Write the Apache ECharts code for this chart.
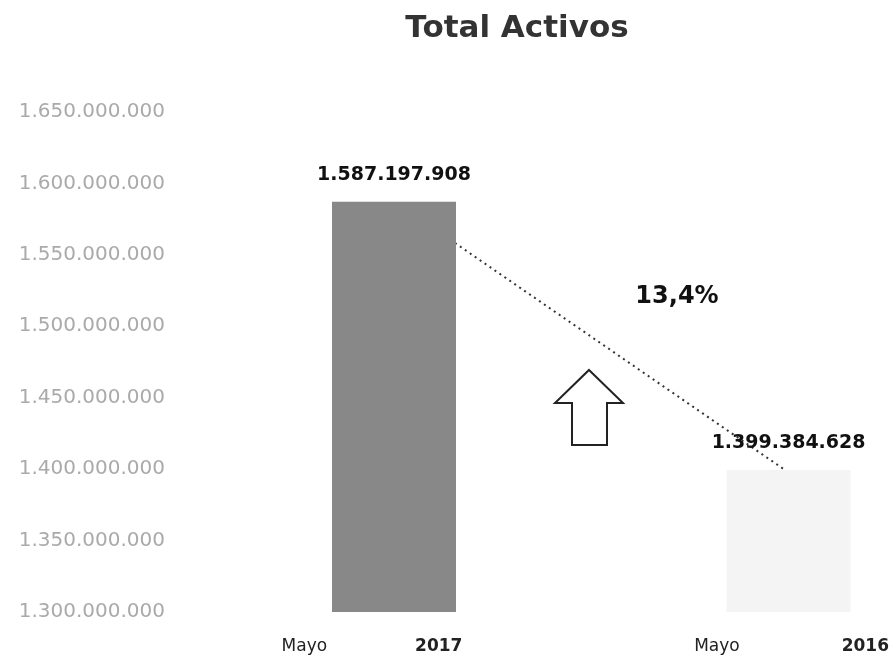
<!DOCTYPE html>
<html>
<head>
<meta charset="utf-8">
<script src="https://cdn.jsdelivr.net/npm/echarts@6/dist/echarts.min.js"></script>
<style>
  html, body { margin: 0; padding: 0; background: #fff; }
  #chart { width: 892px; height: 666px; }
</style>
</head>
<body>
<div id="chart"></div>
<script>
// datos
var categories = ['Mayo 2017', 'Mayo 2016'];
var totals = [1587197908, 1399384628];
var barColors = ['#888888', '#f4f4f4'];
var changeLabel = '13,4%';
var yMin = 1300000000, yMax = 1650000000, yStep = 50000000;

function puntos(v) {
  return String(v).replace(/\B(?=(\d{3})+(?!\d))/g, '.');
}

var chart = echarts.init(document.getElementById('chart'));
var option = {
  animation: false,
  title: {
    text: 'Total Activos',
    left: 512,
    top: 8,
    textAlign: 'center',
    textStyle: { fontFamily: 'DejaVu Sans', fontSize: 31, fontWeight: 'bold', color: '#333' }
  },
  grid: { left: 394, right: 103, top: 112, bottom: 54 },
  xAxis: {
    type: 'category',
    data: categories,
    boundaryGap: false,
    axisLine: { show: false },
    axisTick: { show: false },
    axisLabel: {
      margin: 26,
      formatter: function (v, i) {
        var p = v.split(' ');
        return '{a' + i + '|}{m|' + p[0] + '}{g' + i + '|}{y|' + p[1] + '}{b' + i + '|}';
      },
      rich: {
        m: { fontFamily: 'DejaVu Sans', fontSize: 17, color: '#222' },
        y: { fontFamily: 'DejaVu Sans', fontSize: 17, fontWeight: 'bold', color: '#222' },
        a0: { width: 0 }, g0: { width: 88 }, b0: { width: 44 },
        a1: { width: 6 }, g1: { width: 102 }, b1: { width: 0 }
      }
    }
  },
  yAxis: {
    type: 'value',
    min: yMin,
    max: yMax,
    interval: yStep,
    axisLine: { show: false },
    axisTick: { show: false },
    splitLine: { show: false },
    axisLabel: {
      margin: 229,
      fontFamily: 'DejaVu Sans',
      fontSize: 20,
      color: '#aaa',
      formatter: puntos
    }
  },
  series: [
    {
      // base invisible: las barras arrancan en el minimo del eje
      type: 'bar',
      stack: 'a',
      clip: false,
      barWidth: 124,
      silent: true,
      itemStyle: { color: 'transparent' },
      data: totals.map(function () { return yMin; })
    },
    {
      type: 'bar',
      stack: 'a',
      clip: false,
      barWidth: 124,
      data: totals.map(function (v, i) {
        return { value: v - yMin, itemStyle: { color: barColors[i] } };
      }),
      label: {
        show: true,
        position: 'top',
        distance: 17,
        fontFamily: 'DejaVu Sans',
        fontSize: 19,
        fontWeight: 'bold',
        color: '#111',
        formatter: function (p) { return puntos(totals[p.dataIndex]); }
      }
    }
  ],
  graphic: [
    {
      type: 'line',
      shape: { x1: 455, y1: 243, x2: 785, y2: 470 },
      style: { stroke: '#333', lineWidth: 2, lineDash: [2, 4] }
    },
    {
      type: 'polygon',
      shape: { points: [[589, 370], [623, 403], [607, 403], [607, 445], [572, 445], [572, 403], [555, 403]] },
      style: { fill: 'none', stroke: '#222', lineWidth: 2 }
    },
    {
      type: 'text',
      x: 677,
      y: 297,
      style: {
        text: changeLabel,
        align: 'center',
        verticalAlign: 'middle',
        font: 'bold 24px "DejaVu Sans"',
        fill: '#111'
      }
    }
  ]
};
chart.setOption(option);
</script>
</body>
</html>
